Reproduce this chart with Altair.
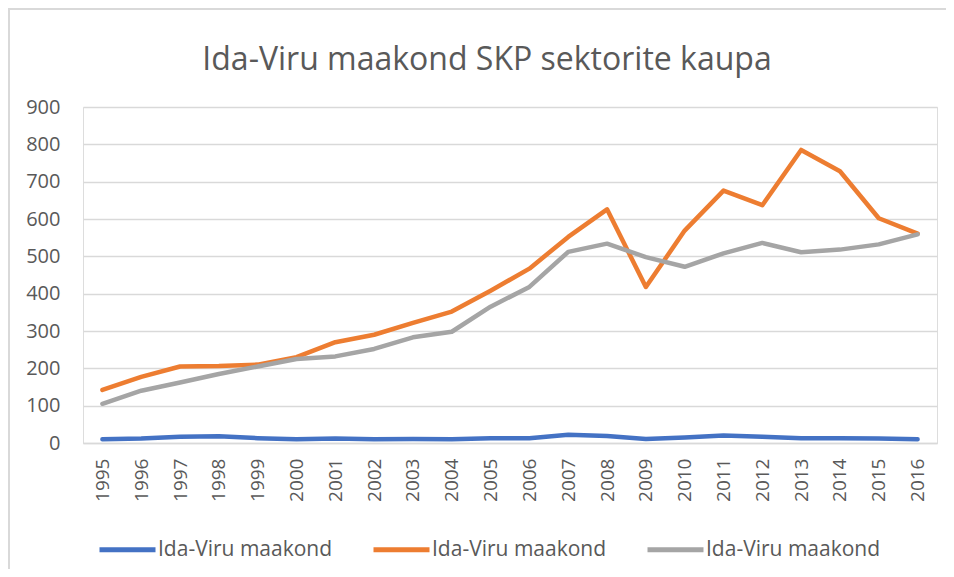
import altair as alt
import pandas as pd

years = [str(y) for y in range(1995, 2017)]
series_keys = ["s1", "s2", "s3"]
series_label = "Ida-Viru maakond"
blue = [10, 12, 17, 18, 13, 10, 12, 10, 11, 10, 13, 13, 22, 19, 11, 15, 20, 17, 13, 13, 12, 10]
orange = [142, 177, 205, 206, 210, 230, 270, 290, 322, 352, 408, 467, 552, 626, 418, 569, 676, 637, 785, 728, 602, 561]
gray = [105, 140, 162, 185, 205, 225, 232, 252, 283, 298, 365, 418, 512, 534, 498, 472, 508, 536, 511, 518, 532, 559]
colors = ["#4472C4", "#ED7D31", "#A5A5A5"]
y_ticks = [0, 100, 200, 300, 400, 500, 600, 700, 800, 900]

rows = []
for key, vals in zip(series_keys, [blue, orange, gray]):
    for yr, v in zip(years, vals):
        rows.append({"year": yr, "value": v, "series": key})
df = pd.DataFrame(rows)

FONT = "Open Sans"
TXT = "#595959"
GRID = "#d9d9d9"

lines = alt.Chart(df).mark_line(strokeWidth=4.5, strokeCap="round", strokeJoin="round").encode(
    x=alt.X("year:O", scale=alt.Scale(padding=0.5),
            axis=alt.Axis(title=None, labelAngle=-90, ticks=False, tickSize=0, labelPadding=15,
                          labelFontSize=19, labelColor=TXT, labelFont=FONT,
                          domainColor=GRID, domainWidth=1.5, grid=False)),
    y=alt.Y("value:Q", scale=alt.Scale(domain=[0, 900], nice=False),
            axis=alt.Axis(title=None, values=y_ticks, ticks=False, tickSize=0, labelPadding=23,
                          labelFontSize=20, labelColor=TXT, labelFont=FONT, domain=False,
                          gridColor=GRID, gridWidth=1.3)),
    color=alt.Color("series:N", scale=alt.Scale(domain=series_keys, range=colors),
                    legend=alt.Legend(title=None, orient="none", legendX=14, legendY=412,
                                      direction="horizontal", columns=3,
                                      symbolType="stroke", symbolSize=3136, symbolStrokeWidth=5,
                                      labelExpr="'" + series_label + "'", labelLimit=0,
                                      labelFontSize=21, labelColor=TXT, labelFont=FONT,
                                      labelOffset=0, columnPadding=30)),
    order=alt.Order("series:N"),
)

border_data = alt.Data(values=[{"k": 1}])
top_border = alt.Chart(border_data).mark_rule(color=GRID, strokeWidth=2).encode(
    x=alt.value(-75), x2=alt.value(863), y=alt.value(-98))
left_border = alt.Chart(border_data).mark_rule(color=GRID, strokeWidth=2).encode(
    x=alt.value(-74), y=alt.value(-99), y2=alt.value(462))

chart = alt.layer(top_border, left_border, lines).properties(
    width=854, height=336,
    title=alt.Title("Ida-Viru maakond SKP sektorite kaupa", fontSize=32, font=FONT,
                    color=TXT, fontWeight="normal", anchor="middle", dx=-23, dy=70, offset=0),
    autosize=alt.AutoSizeParams(type="none"),
    padding={"left": 75, "top": 99, "right": 9, "bottom": 126},
).configure_view(stroke=None).configure(background="white")

chart.save("out.html", embed_options={"renderer": "svg", "actions": False})
